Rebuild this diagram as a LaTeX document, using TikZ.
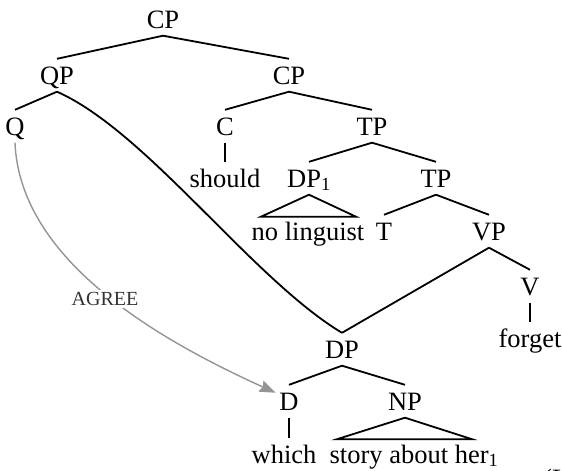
\documentclass[tikz,border=0pt]{standalone}
\usepackage{fontspec}
\setmainfont{Liberation Serif}
\usetikzlibrary{arrows.meta}

\begin{document}
\begin{tikzpicture}[
    x=1pt, y=-1pt,
    cat/.style={anchor=base, inner xsep=0pt, inner ysep=7.5pt, text height=17.5pt, text depth=0pt, font=\fontsize{26.5}{30}\selectfont},
    br/.style={line width=1.8pt},
    agr/.style={fill=white, inner sep=2pt, text=black!80, font=\fontsize{20}{24}\selectfont},
    arrow/.style={-{Stealth[length=16pt, width=12pt, inset=2pt]}, line width=1.4pt, draw=black!42}
]
    \useasboundingbox (0,0) rectangle (562,471);

    % categories and words
    \node[cat] (cp)     at (163,28)  {CP};
    \node[cat] (qp)     at (57,84)   {QP};
    \node[cat] (cpb)    at (289,84)  {CP};
    \node[cat] (q)      at (15,135)  {Q};
    \node[cat] (c)      at (225,135) {C};
    \node[cat] (tp)     at (372,135) {TP};
    \node[cat] (should) at (225,187) {should};
    \node[cat] (dpa)    at (309,187) {DP\textsubscript{1}};
    \node[cat] (tpb)    at (436,187) {TP};
    \node[cat] (nolx)   at (308,240) {no linguist};
    \node[cat] (t)      at (384,240) {T};
    \node[cat] (vp)     at (489,240) {VP};
    \node[cat] (v)      at (530,295) {V};
    \node[cat] (forget) at (530,347) {forget};
    \node[cat] (dp)     at (342,358) {DP};
    \node[cat] (d)      at (289,410) {D};
    \node[cat] (np)     at (405,410) {NP};
    \node[cat] (which)  at (284,463) {which};
    \node[cat] (story)  at (414,463) {story about her\textsubscript{1}};
    \node[cat, anchor=base west] (src) at (543,487) {(L};

    % branches
    \draw[br] (cp.south) -- (qp.north);
    \draw[br] (cp.south) -- (cpb.north);
    \draw[br] (qp.south) -- (q.north);
    \draw[br] (cpb.south) -- (c.north);
    \draw[br] (cpb.south) -- (tp.north);
    \draw[br] (c.south) -- (should.north);
    \draw[br] (tp.south) -- (dpa.north);
    \draw[br] (tp.south) -- (tpb.north);
    \draw[br] (tpb.south) -- (t.north);
    \draw[br] (tpb.south) -- (vp.north);
    \draw[br] (vp.south) -- (v.north);
    \draw[br] (vp.south) -- (dp.north);
    \draw[br] (v.south) -- (forget.north);
    \draw[br] (dp.south) -- (d.north);
    \draw[br] (dp.south) -- (np.north);
    \draw[br] (d.south) -- (d.south |- which.north);

    % triangles
    \draw[br] (dpa.south) -- ++(-48,22) -- ++(95,0) -- cycle;
    \draw[br] (np.south) -- ++(-68,21.5) -- ++(135,0) -- cycle;

    % movement from QP
    \draw[br] (qp.south) .. controls +(90,40) and +(-90,-54) .. (dp.north);

    % agree
    \draw[arrow, shorten >=4pt] (q.south) .. controls +(5,122) and +(-110,-50) .. (d.145);
    \node[agr] (agree) at (105,299) {AGREE};

\end{tikzpicture}
\end{document}
